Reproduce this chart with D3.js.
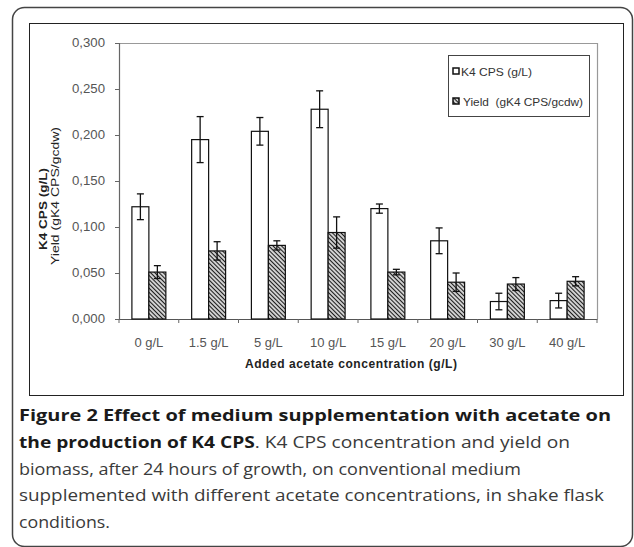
<!DOCTYPE html>
<html>
<head>
<meta charset="utf-8">
<script src="https://d3js.org/d3.v7.min.js"></script>
<style>
  body { margin: 0; background: #fff; }
  svg text { font-family: Arial, "Liberation Sans", sans-serif; }
</style>
</head>
<body>
<svg id="fig" width="634" height="547"></svg>
<script>

// data
const categories = ["0 g/L", "1.5 g/L", "5 g/L", "10 g/L", "15 g/L", "20 g/L", "30 g/L", "40 g/L"];
const seriesNames = ["K4 CPS (g/L)", "Yield  (gK4 CPS/gcdw)"];
const cpsValues = [0.122, 0.195, 0.204, 0.228, 0.120, 0.085, 0.019, 0.020];
const cpsErrors = [0.014, 0.025, 0.015, 0.020, 0.005, 0.014, 0.009, 0.008];
const yieldValues = [0.051, 0.074, 0.080, 0.094, 0.051, 0.040, 0.038, 0.041];
const yieldErrors = [0.007, 0.010, 0.005, 0.017, 0.003, 0.010, 0.007, 0.005];
const yTicks = [0, 0.05, 0.1, 0.15, 0.2, 0.25, 0.3];

const captionLines = [
  {bold: "Figure 2 Effect of medium supplementation with acetate on", rest: "", w: 592},
  {bold: "the production of K4 CPS", rest: ". K4 CPS concentration and yield on", w: 551},
  {bold: "", rest: "biomass, after 24 hours of growth, on conventional medium", w: 502},
  {bold: "", rest: "supplemented with different acetate concentrations, in shake flask", w: 585},
  {bold: "", rest: "conditions.", w: 91}
];

const svg = d3.select("#fig");

// the chart image is a bit wider than its fonts: stretch text horizontally
function stretch(sel, k) {
  sel.each(function() {
    const w = this.getComputedTextLength();
    d3.select(this).attr("textLength", w * k).attr("lengthAdjust", "spacingAndGlyphs");
  });
}

// hatch pattern for the yield bars
const defs = svg.append("defs");
const pat = defs.append("pattern")
    .attr("id", "hatch")
    .attr("patternUnits", "userSpaceOnUse")
    .attr("width", 3).attr("height", 3)
    .attr("patternTransform", "rotate(-45)");
pat.append("rect").attr("width", 3).attr("height", 3).attr("fill", "#d0d0d0");
pat.append("line").attr("x1", 0).attr("y1", 0).attr("x2", 0).attr("y2", 3)
    .attr("stroke", "#1a1a1a").attr("stroke-width", 2);

// outer frame and chart frame
svg.append("rect").attr("x", 12.5).attr("y", 7.5).attr("width", 620).attr("height", 539)
    .attr("rx", 12).attr("fill", "none").attr("stroke", "#444").attr("stroke-width", 1.5);
svg.append("rect").attr("x", 29.5).attr("y", 23.5).attr("width", 594).attr("height", 372)
    .attr("fill", "none").attr("stroke", "#222").attr("stroke-width", 1);

const plot = {left: 119, right: 597, top: 43, bottom: 319};

const x0 = d3.scaleBand().domain(categories).range([plot.left, plot.right]).padding(0);
const x1 = d3.scaleBand().domain(seriesNames).range([0, x0.bandwidth()])
    .paddingInner(0).paddingOuter(0.76);
const y = d3.scaleLinear().domain([0, 0.3]).range([plot.bottom, plot.top]);

const locale = d3.formatLocale({decimal: ",", thousands: ".", grouping: [3], currency: ["", ""]});
const fmt = locale.format(".3f");

// plot frame (top and right grey)
svg.append("path")
    .attr("d", `M${plot.left},${plot.top + 0.5}H${plot.right + 0.5}V${plot.bottom}`)
    .attr("fill", "none").attr("stroke", "#999").attr("stroke-width", 1.2);

// y axis
const yAxis = svg.append("g")
    .attr("transform", `translate(${plot.left},0)`)
    .call(d3.axisLeft(y).tickValues(yTicks).tickFormat(fmt).tickSize(4).tickPadding(10));
yAxis.select(".domain").attr("stroke", "#666").attr("stroke-width", 1.2);
yAxis.selectAll(".tick line").attr("stroke", "#666");
yAxis.selectAll("text").attr("font-size", 12).attr("fill", "#555")
    .attr("font-family", "Arial, 'Liberation Sans', sans-serif")
    .call(stretch, 1.1);

// x axis
const xAxis = svg.append("g")
    .attr("transform", `translate(0,${plot.bottom})`)
    .call(d3.axisBottom(x0).tickSize(0).tickPadding(19));
xAxis.select(".domain").attr("stroke", "#555").attr("stroke-width", 1.2);
xAxis.selectAll("text").attr("font-size", 12.5).attr("fill", "#555")
    .attr("font-family", "Arial, 'Liberation Sans', sans-serif")
    .call(stretch, 1.04);
// tick marks at the category boundaries
const bounds = categories.map(c => x0(c)).concat([plot.right]);
svg.append("g").selectAll("line").data(bounds).join("line")
    .attr("x1", d => d).attr("x2", d => d)
    .attr("y1", plot.bottom).attr("y2", plot.bottom + 4)
    .attr("stroke", "#666");

// bars
const rows = categories.map((c, i) => ({
  cat: c,
  bars: [
    {s: seriesNames[0], v: cpsValues[i], e: cpsErrors[i]},
    {s: seriesNames[1], v: yieldValues[i], e: yieldErrors[i]}
  ]
}));

const groups = svg.append("g").selectAll("g").data(rows).join("g")
    .attr("transform", d => `translate(${x0(d.cat)},0)`);

groups.selectAll("rect").data(d => d.bars).join("rect")
    .attr("x", d => x1(d.s))
    .attr("y", d => y(d.v))
    .attr("width", x1.bandwidth())
    .attr("height", d => y(0) - y(d.v))
    .attr("fill", (d, i) => i === 0 ? "#fff" : "url(#hatch)")
    .attr("stroke", "#111").attr("stroke-width", 1.2);

// error bars
const capW = 3.5;
const eb = groups.selectAll("g.err").data(d => d.bars).join("g").attr("class", "err");
eb.append("line")
    .attr("x1", d => x1(d.s) + x1.bandwidth() / 2).attr("x2", d => x1(d.s) + x1.bandwidth() / 2)
    .attr("y1", d => y(d.v + d.e)).attr("y2", d => y(d.v - d.e))
    .attr("stroke", "#111").attr("stroke-width", 1.3);
eb.append("line")
    .attr("x1", d => x1(d.s) + x1.bandwidth() / 2 - capW).attr("x2", d => x1(d.s) + x1.bandwidth() / 2 + capW)
    .attr("y1", d => y(d.v + d.e)).attr("y2", d => y(d.v + d.e))
    .attr("stroke", "#111").attr("stroke-width", 1.3);
eb.append("line")
    .attr("x1", d => x1(d.s) + x1.bandwidth() / 2 - capW).attr("x2", d => x1(d.s) + x1.bandwidth() / 2 + capW)
    .attr("y1", d => y(d.v - d.e)).attr("y2", d => y(d.v - d.e))
    .attr("stroke", "#111").attr("stroke-width", 1.3);

// axis titles
svg.append("text")
    .attr("x", 351).attr("y", 368)
    .attr("text-anchor", "middle").attr("font-size", 12).attr("font-weight", "bold")
    .attr("fill", "#222").attr("textLength", 212).attr("lengthAdjust", "spacing")
    .text("Added acetate concentration (g/L)");
svg.append("text")
    .attr("transform", "translate(47,209) rotate(-90)")
    .attr("text-anchor", "middle").attr("font-size", 10.5).attr("font-weight", "bold")
    .attr("fill", "#222").attr("textLength", 82).attr("lengthAdjust", "spacingAndGlyphs")
    .text("K4 CPS (g/L)");
svg.append("text")
    .attr("transform", "translate(58.5,196) rotate(-90)")
    .attr("text-anchor", "middle").attr("font-size", 10.5)
    .attr("fill", "#222").attr("textLength", 138).attr("lengthAdjust", "spacingAndGlyphs")
    .text("Yield (gK4 CPS/gcdw)");

// legend
const lg = svg.append("g");
lg.append("rect").attr("x", 448.5).attr("y", 55.5).attr("width", 141).attr("height", 61)
    .attr("fill", "#fff").attr("stroke", "#444");
const legendW = [71, 120];
const li = lg.selectAll("g").data(seriesNames).join("g")
    .attr("transform", (d, i) => `translate(453,${68 + i * 30})`);
li.append("rect").attr("width", 6).attr("height", 6)
    .attr("fill", (d, i) => i === 0 ? "#fff" : "url(#hatch)")
    .attr("stroke", "#111").attr("stroke-width", 1.5);
li.append("text").attr("x", (d, i) => i === 0 ? 8 : 10).attr("y", 8)
    .attr("font-size", 11.5).attr("fill", "#333")
    .attr("textLength", (d, i) => legendW[i]).attr("lengthAdjust", "spacingAndGlyphs")
    .style("white-space", "pre").attr("xml:space", "preserve")
    .text(d => d);

// caption
const cap = svg.append("g").attr("font-family", "'Open Sans', 'Noto Sans', sans-serif");
captionLines.forEach((ln, i) => {
  const t = cap.append("text")
      .attr("x", 19).attr("y", 421 + i * 26.8)
      .attr("font-size", 16)
      .attr("textLength", ln.w).attr("lengthAdjust", "spacingAndGlyphs")
      .style("font-family", "'Open Sans', 'Noto Sans', sans-serif");
  if (ln.bold) t.append("tspan").attr("font-weight", "bold").attr("fill", "#1a1a1a").text(ln.bold);
  if (ln.rest) t.append("tspan").attr("fill", "#3a3a3a").text(ln.rest);
});

</script>
</body>
</html>
